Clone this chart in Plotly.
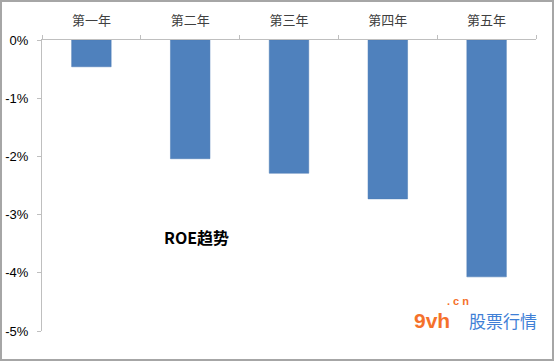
import plotly.graph_objects as go

categories = ["第一年", "第二年", "第三年", "第四年", "第五年"]
roe_values = [-0.46, -2.04, -2.29, -2.73, -4.07]
y_tickvals = [0, -1, -2, -3, -4, -5]
y_ticktext = ["0%", "-1%", "-2%", "-3%", "-4%", "-5%"]

fig = go.Figure()
fig.add_trace(go.Bar(
    x=categories, y=roe_values,
    marker=dict(color="#4F81BD", line=dict(color="#4A7BB5", width=0.5)),
    width=0.4,
))

W, H = 554, 361
L, R, T, B = 42, 18, 40, 30
pw, ph = W - L - R, H - T - B

fig.update_layout(
    width=W, height=H,
    margin=dict(l=L, r=R, t=T, b=B),
    paper_bgcolor="white", plot_bgcolor="white",
    showlegend=False,
    font=dict(family="Liberation Sans, Arial, sans-serif", color="#000000"),
    xaxis=dict(
        side="top", type="category", automargin=False,
        showline=True, linecolor="#BFBFBF", linewidth=1,
        ticks="outside", tickson="boundaries", ticklen=4, tickcolor="#BFBFBF",
        tickfont=dict(family="Noto Sans CJK SC", size=13, color="#404040"),
        ticklabelstandoff=9,
        showgrid=False, zeroline=False,
    ),
    yaxis=dict(
        range=[-5, 0], automargin=False,
        tickvals=y_tickvals, ticktext=y_ticktext,
        showline=True, linecolor="#BFBFBF", linewidth=1,
        ticks="outside", ticklen=4, tickcolor="#BFBFBF",
        tickfont=dict(size=13, color="#000000"),
        ticklabelstandoff=6,
        showgrid=False, zeroline=False,
    ),
    bargap=0.6,
)

# frame around the whole picture
fig.add_shape(type="rect", xref="paper", yref="paper",
              x0=(-L + 1) / pw, x1=(pw + R - 1) / pw,
              y0=(-B + 1) / ph, y1=(ph + T - 1) / ph,
              line=dict(color="#A6A6A6", width=2), layer="above")

def px(x):
    return (x - L) / pw

def py(y):
    return 1 - (y - T) / ph

def label(text, x, y, size, color, family):
    fig.add_annotation(text=text, xref="paper", yref="paper",
                       x=px(x), y=py(y), xanchor="center", yanchor="middle",
                       showarrow=False,
                       font=dict(family=family, size=size, color=color))

label("<b>ROE趋势</b>", 196, 237, 16, "#000000", "Noto Sans CJK SC")
label("<b>9vh</b>", 432, 320, 21, "#F5712B", "Liberation Sans")
label("<b>. c n</b>", 458, 301, 11, "#F5712B", "Liberation Sans")
label("股票行情", 503, 320, 17, "#3F7FD6", "Noto Sans CJK SC")

fig.write_html("out.html")
